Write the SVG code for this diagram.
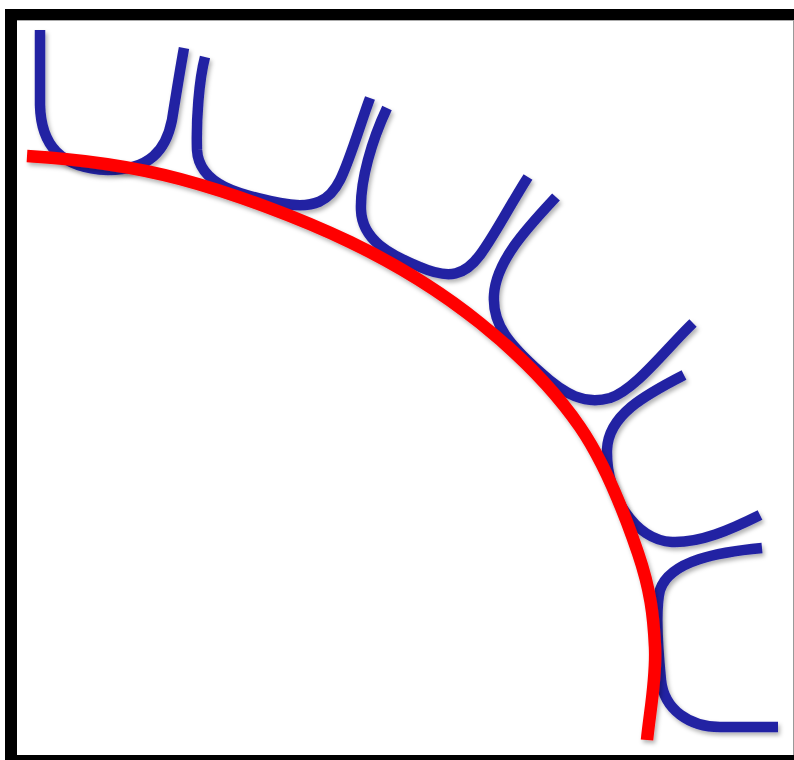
<svg xmlns="http://www.w3.org/2000/svg" width="794" height="760" viewBox="0 0 794 760">
  <defs>
    <filter id="shadow" x="-10%" y="-10%" width="120%" height="120%">
      <feDropShadow dx="2" dy="3" stdDeviation="2" flood-color="#000" flood-opacity="0.3"/>
    </filter>
    <style>
      .u { fill: none; stroke: #2323A3; stroke-width: 10.5; stroke-linecap: butt; stroke-linejoin: round; filter: url(#shadow); }
      .arc { fill: none; stroke: #FF0000; stroke-width: 12.5; stroke-linecap: butt; filter: url(#shadow); }
    </style>
  </defs>
  <g id="frame">
    <rect x="5" y="9" width="789" height="751" fill="#000"/>
    <rect x="17" y="20" width="777" height="735" fill="#fff"/>
    <line x1="793.5" y1="20" x2="793.5" y2="755" stroke="#999" stroke-width="1"/>
    <line x1="17" y1="20.5" x2="793" y2="20.5" stroke="#aaa" stroke-width="1"/>
  </g>
  <g id="cups">
    <path id="u1" class="u" d="M40,30 L40,105 C41,145 60,168 108,170 C150,170 166,150 172,120 C176,95 180,70 184,48"/>
    <path id="u2" class="u" d="M205,57 C199,80 196,120 197,150 C199,185 240,195 280,203 C315,210 330,200 340,180 C350,160 360,125 370,98"/>
    <path id="u3" class="u" d="M387,108 C372,140 360,180 361,210 C362,240 390,255 420,267 C450,280 465,275 480,255 C495,235 510,205 528,177"/>
    <path id="u4" class="u" d="M556,197 C530,225 496,260 494,295 C492,325 510,345 540,372 C565,395 585,405 610,398 C635,390 665,350 693,323"/>
    <path id="u5" class="u" d="M684,375 C645,395 608,415 607,450 C606,495 635,540 672,542 C700,543 730,530 760,515"/>
    <path id="u6" class="u" d="M762,548 C720,552 670,560 660,590 C655,610 658,650 661,680 C664,710 690,727 720,727 L778,727"/>
  </g>
  <g id="surface">
    <path class="arc" d="M27,156 C77,159 126,164.7 180,179 C233.8,193.3 300,218 350,242 C400,266 441.7,292.2 480,323 C518.3,353.8 553.7,388.7 580,427 C606.3,465.3 625.5,516.3 638,553 C650.5,589.7 653.5,615.8 655,647 C656.5,678.2 650,710 647,740"/>
  </g>
</svg>
